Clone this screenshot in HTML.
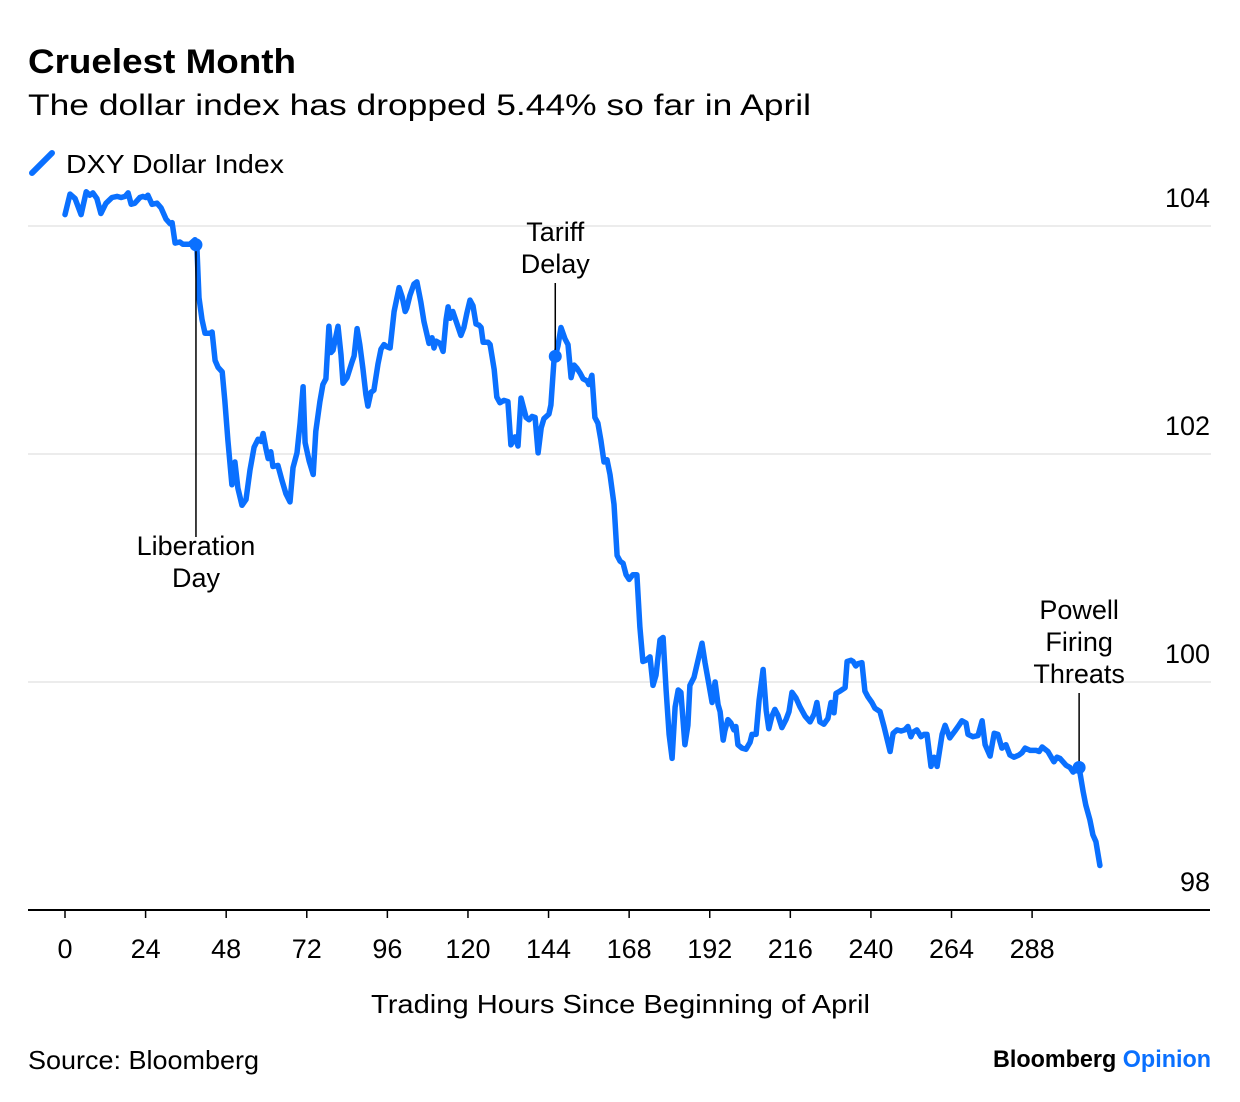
<!DOCTYPE html>
<html><head><meta charset="utf-8">
<style>
html,body{margin:0;padding:0;background:#fff;}
svg{display:block;font-family:"Liberation Sans",Arial,sans-serif;}
</style></head>
<body>
<svg id="chart" width="1240" height="1102" viewBox="0 0 1240 1102">
  <text x="28" y="73" font-size="34" font-weight="bold" fill="#000" textLength="268" lengthAdjust="spacingAndGlyphs">Cruelest Month</text>
  <text x="28" y="115" font-size="30" fill="#000" textLength="783" lengthAdjust="spacingAndGlyphs">The dollar index has dropped 5.44% so far in April</text>
  <g>
    <line x1="32" y1="173" x2="52" y2="153" stroke="#0a70ff" stroke-width="6" stroke-linecap="round"/>
    <text x="66" y="173" font-size="26" fill="#000" textLength="218" lengthAdjust="spacingAndGlyphs">DXY Dollar Index</text>
  </g>
  <g id="grid"></g>
  <g id="xaxis"></g>
  <g id="yaxis"></g>
  <g id="series"></g>
  <g id="annot"></g>
  <text x="371" y="1013" font-size="26" fill="#000" textLength="499" lengthAdjust="spacingAndGlyphs">Trading Hours Since Beginning of April</text>
  <text x="28" y="1069" font-size="26" fill="#000" textLength="231" lengthAdjust="spacingAndGlyphs">Source: Bloomberg</text>
  <text x="993" y="1067" font-size="24" font-weight="bold" textLength="218" lengthAdjust="spacingAndGlyphs"><tspan fill="#000">Bloomberg </tspan><tspan fill="#0a70ff">Opinion</tspan></text>
</svg>
<script>
const hours = [0,1.5,3.0,4.8,6.3,7.4,8.3,9.5,10.7,12.2,14.0,15.5,16.7,17.9,18.8,19.7,20.8,22.3,23.2,24.1,24.7,25.9,27.4,28.6,30.1,31.3,31.9,32.8,34.2,35.1,37.2,38.7,39.3,39.9,40.8,41.7,43.2,43.8,44.7,45.6,46.8,47.6,48.5,49.7,50.6,51.5,52.7,53.9,55.1,56.3,57.5,58.4,59.0,59.9,60.5,61.3,61.9,63.4,64.6,65.8,67.0,67.9,69.1,70.0,70.9,71.5,72.7,73.9,74.7,75.9,76.8,77.7,78.6,79.2,79.8,81.3,82.2,82.8,84.0,85.5,86.1,87.0,87.8,88.7,89.6,90.2,91.1,92.0,93.2,94.1,95.0,95.9,96.8,98.0,99.5,100.4,101.3,101.8,102.7,103.9,104.8,106.0,106.9,108.4,109.3,109.9,110.5,111.7,112.6,113.5,114.1,114.7,115.5,116.4,117.9,118.8,119.7,120.6,121.5,122.4,123.3,123.9,124.5,126.0,126.6,127.8,128.6,129.5,130.7,131.9,132.8,134.0,134.9,135.8,137.3,138.2,139.1,140.0,140.9,141.8,142.6,144.1,144.7,145.6,146.8,147.7,148.9,149.8,150.7,151.6,152.5,153.4,154.3,155.5,156.0,156.9,157.8,158.7,159.6,160.5,161.4,162.3,163.5,164.4,165.3,166.2,167.1,168.0,169.1,170.3,171.2,172.1,173.0,174.2,175.1,176.0,177.2,178.1,179.0,179.9,180.8,181.7,182.6,183.4,184.6,185.5,186.1,187.3,188.5,189.7,190.6,191.8,192.7,193.6,194.5,195.1,196.0,196.5,197.4,198.3,199.2,199.8,200.4,201.6,202.8,204.0,204.6,205.8,206.7,207.9,208.8,209.6,210.5,211.4,212.3,213.5,214.7,215.6,216.5,217.7,218.9,220.4,221.9,223.1,223.9,224.8,226.0,227.2,228.1,229.0,229.6,230.8,232.3,232.9,234.1,234.7,235.5,236.1,237.3,238.2,239.1,240.3,241.2,242.7,243.9,245.7,246.6,247.8,249.0,250.1,251.0,251.9,252.5,253.7,254.9,255.8,256.7,257.9,258.8,259.7,261.2,262.1,263.5,265.0,266.2,267.1,268.3,268.9,270.4,271.9,273.1,274.0,275.5,276.7,277.8,279.0,280.2,281.4,282.6,284.1,285.0,285.9,287.4,289.2,290.1,291.0,292.7,294.5,295.4,296.3,298.1,299.3,300.2,301.1,302.0,303.2,304.0,305.2,306.1,307.0,308.2];
const dxyValues = [104.10,104.28,104.24,104.10,104.30,104.27,104.29,104.24,104.11,104.20,104.25,104.26,104.25,104.26,104.29,104.19,104.20,104.25,104.26,104.25,104.27,104.19,104.20,104.16,104.06,104.02,104.03,103.85,103.86,103.84,103.84,103.88,103.79,103.37,103.18,103.06,103.06,103.07,102.82,102.76,102.72,102.47,102.12,101.73,101.93,101.70,101.55,101.60,101.86,102.06,102.13,102.11,102.18,102.04,101.96,102.02,101.89,101.90,101.77,101.65,101.58,101.88,102.01,102.27,102.59,102.10,101.94,101.82,102.20,102.46,102.61,102.66,103.12,102.89,102.91,103.12,102.87,102.62,102.67,102.81,102.86,103.10,102.96,102.75,102.52,102.42,102.54,102.56,102.79,102.92,102.96,102.94,102.93,103.25,103.46,103.38,103.25,103.28,103.39,103.49,103.51,103.33,103.16,102.97,103.02,102.93,102.99,102.97,102.90,103.18,103.29,103.19,103.25,103.17,103.04,103.11,103.24,103.35,103.30,103.14,103.13,103.11,102.98,102.98,102.96,102.74,102.50,102.45,102.47,102.46,102.08,102.15,102.07,102.49,102.32,102.30,102.33,102.32,102.01,102.23,102.31,102.35,102.43,102.81,102.95,103.11,103.01,102.96,102.67,102.78,102.75,102.71,102.66,102.64,102.61,102.69,102.32,102.27,102.12,101.93,101.95,101.82,101.56,101.11,101.06,101.04,100.94,100.90,100.94,100.94,100.48,100.18,100.19,100.22,99.97,100.06,100.37,100.39,99.93,99.54,99.33,99.78,99.93,99.91,99.45,99.62,99.97,100.04,100.19,100.34,100.17,99.97,99.82,100.00,99.80,99.74,99.49,99.57,99.67,99.64,99.58,99.61,99.45,99.42,99.41,99.47,99.54,99.54,99.84,100.11,99.75,99.59,99.70,99.76,99.71,99.60,99.67,99.74,99.91,99.86,99.78,99.70,99.65,99.72,99.82,99.65,99.63,99.68,99.82,99.73,99.90,99.92,99.95,100.18,100.19,100.18,100.14,100.16,100.17,99.92,99.87,99.82,99.77,99.74,99.61,99.39,99.55,99.58,99.57,99.58,99.61,99.52,99.56,99.58,99.52,99.54,99.54,99.26,99.34,99.26,99.54,99.62,99.51,99.57,99.62,99.66,99.64,99.54,99.52,99.53,99.66,99.45,99.35,99.55,99.54,99.42,99.45,99.36,99.34,99.36,99.38,99.42,99.40,99.40,99.39,99.43,99.39,99.30,99.34,99.33,99.27,99.25,99.21,99.23,99.25,99.04,98.92,98.79,98.66,98.60,98.39];
const xTicks = [0,24,48,72,96,120,144,168,192,216,240,264,288];
const yTicks = [98,100,102,104];
const annotHours = [39, 146, 302];
const annotLabels = [["Liberation","Day"],["Tariff","Delay"],["Powell","Firing","Threats"]];

const NS = "http://www.w3.org/2000/svg";
const X0 = 65, PXH = 3.358, Y104 = 226, PXU = 114;
function xs(h){ return X0 + h * PXH; }
function ys(v){ return Y104 + (104 - v) * PXU; }
function mk(tag, attrs, parent){ const e = document.createElementNS(NS, tag); for (const k in attrs) e.setAttribute(k, attrs[k]); parent.appendChild(e); return e; }

const grid = document.getElementById('grid');
const yaxis = document.getElementById('yaxis');
yTicks.forEach(t => {
  if (t !== 98) {
    const l = mk('line', {x1:28, x2:1211, y1:ys(t), y2:ys(t), stroke:'#ececec', 'stroke-width':2}, grid);
    
    
  }
  const tx = mk('text', {x:1210, y:ys(t) - 19, 'font-size':27, 'text-anchor':'end', fill:'#000'}, yaxis);
  tx.textContent = t;
  
  
});

const xaxis = document.getElementById('xaxis');
const axl = mk('line', {x1:28, x2:1210, y1:910, y2:910, stroke:'#000', 'stroke-width':2}, xaxis);


xTicks.forEach(t => {
  const tk = mk('line', {x1:xs(t), x2:xs(t), y1:910, y2:918, stroke:'#000', 'stroke-width':1.5}, xaxis);
  
  
  const tx = mk('text', {x:xs(t), y:958, 'font-size':27, 'text-anchor':'middle', fill:'#000'}, xaxis);
  tx.textContent = t;
  
  
});

const series = document.getElementById('series');
const d = hours.map((h,i) => (i ? 'L' : 'M') + xs(h).toFixed(1) + ' ' + ys(dxyValues[i]).toFixed(1)).join(' ');
const path = mk('path', {d:d, fill:'none', stroke:'#0a70ff', 'stroke-width':5.5, 'stroke-linejoin':'round', 'stroke-linecap':'round'}, series);



function valAt(h){
  for (let i = 1; i < hours.length; i++) {
    if (hours[i] >= h) { const f = (h - hours[i-1]) / (hours[i] - hours[i-1]); return dxyValues[i-1] + f * (dxyValues[i] - dxyValues[i-1]); }
  }
  return dxyValues[dxyValues.length - 1];
}
const annot = document.getElementById('annot');
const names = ['liberation-day','tariff-delay','powell-firing-threats'];
annotHours.forEach((h, k) => {
  const x = xs(h), y = ys(valAt(h));
  const lines = annotLabels[k];
  let y1, y2, textY0;
  if (k === 0) { y1 = y; y2 = 537; textY0 = 555; }
  else { y2 = y; y1 = k === 1 ? 283 : 693; textY0 = y1 - 10 - (lines.length - 1) * 32; }
  const ln = mk('line', {x1:x, x2:x, y1:y1, y2:y2, stroke:'#000', 'stroke-width':1.5}, annot);
  
  
  const dot = mk('circle', {cx:x, cy:y, r:6.5, fill:'#0a70ff'}, annot);
  
  
  const tx = mk('text', {x:x, y:textY0, 'font-size':27, 'text-anchor':'middle', fill:'#000'}, annot);
  
  
  lines.forEach((s, j) => { const ts = mk('tspan', {x:x, dy: j ? 32 : 0}, tx); ts.textContent = s; });
});
</script>
</body></html>
